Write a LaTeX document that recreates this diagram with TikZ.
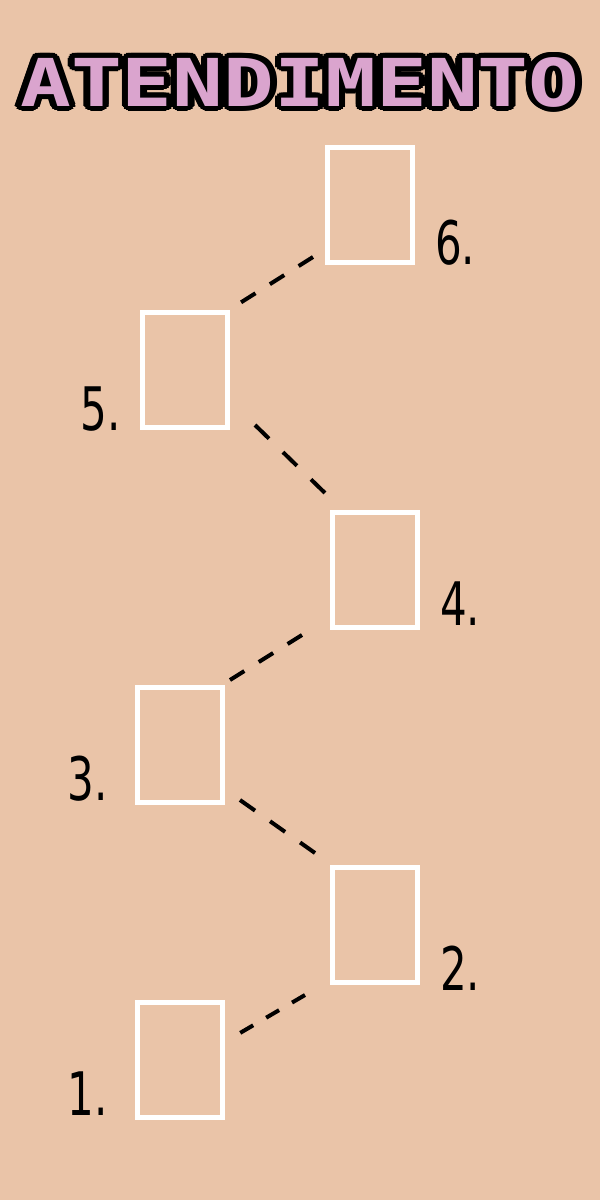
\documentclass[tikz,border=0pt]{standalone}
\usepackage{fontspec}
\newfontfamily\titlefont{DejaVu Sans Mono}
\newfontfamily\numfont{DejaVu Sans}
\definecolor{bg}{RGB}{234,196,168}
\definecolor{titlepink}{RGB}{218,164,206}
\begin{document}
\begin{tikzpicture}[x=1pt,y=-1pt,
  box/.style={draw=white,line width=5pt,minimum width=85pt,minimum height=115pt,inner sep=0pt},
  link/.style={line width=4pt,dash pattern=on #1 off #1},
  num/.style={font=\numfont\fontsize{60}{60}\selectfont,inner sep=0pt,xscale=0.7},
  ttl/.style={font=\titlefont\bfseries\fontsize{66}{66}\selectfont,inner sep=0pt,xscale=1.28}]
  \fill[bg] (0,0) rectangle (600,1200);
  % title with black outline
  \foreach \a [count=\i] in {0,22.5,...,337.5}
    \node[ttl,text=black,shift={(\a:5pt)}] (shade\i) at (300,82) {ATENDIMENTO};
  \node[ttl,text=titlepink] (title) at (300,82) {ATENDIMENTO};
  \node[box] (b6) at (370,205) {};
  \node[box] (b5) at (185,370) {};
  \node[box] (b4) at (375,570) {};
  \node[box] (b3) at (180,745) {};
  \node[box] (b2) at (375,925) {};
  \node[box] (b1) at (180,1060) {};
  \node[num,anchor=base west] (n6) at (435,264) {6.};
  \node[num,anchor=base east] (n5) at (121,430) {5.};
  \node[num,anchor=base west] (n4) at (440,625) {4.};
  \node[num,anchor=base east] (n3) at (108,800) {3.};
  \node[num,anchor=base west] (n2) at (440,990) {2.};
  \node[num,anchor=base east] (n1) at (108,1115) {1.};
  \draw[link=17pt] ([xshift=-12pt,yshift=8pt]b6.south west) -- ([xshift=10pt,yshift=7pt]b5.north east);
  \draw[link=19.5pt] ([xshift=25pt,yshift=5pt]b5.south east) -- ([xshift=-5pt,yshift=17pt]b4.north west);
  \draw[link=17pt] ([xshift=-28pt,yshift=-5pt]b4.south west) -- ([xshift=5pt,yshift=5pt]b3.north east);
  \draw[link=18.4pt] ([xshift=15pt,yshift=5pt]b3.south east) -- ([xshift=-15pt,yshift=12pt]b2.north west);
  \draw[link=15pt] ([xshift=-25pt,yshift=-10pt]b2.south west) -- ([xshift=15pt,yshift=-33pt]b1.north east);
\end{tikzpicture}
\end{document}
